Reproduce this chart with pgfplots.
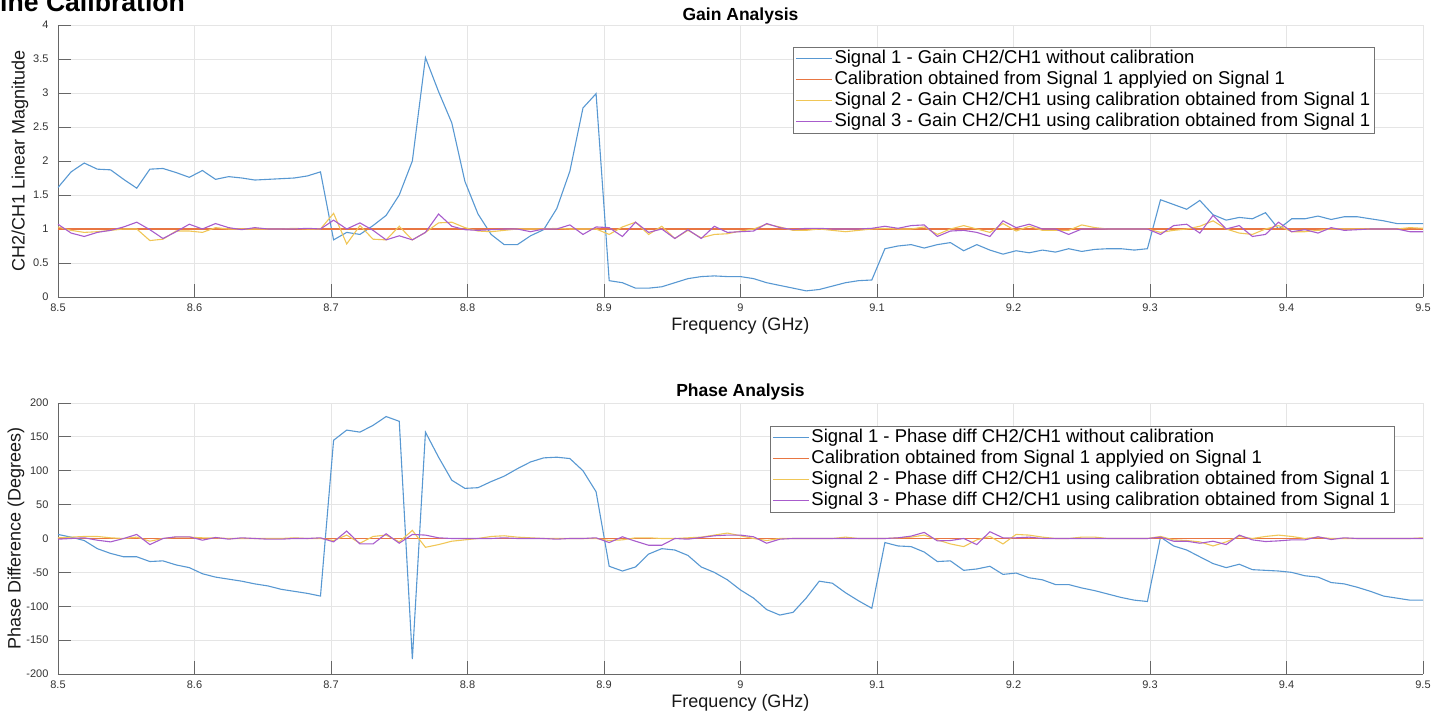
\documentclass[border=0pt]{standalone}
\usepackage{fontspec}
\setmainfont{Liberation Sans}
\usepackage{pgfplots}
\usepackage{pgfplotstable}
\pgfplotsset{compat=1.18}

\definecolor{cA}{RGB}{88,152,210}
\definecolor{cB}{RGB}{232,118,66}
\definecolor{cC}{RGB}{240,198,86}
\definecolor{cD}{RGB}{168,92,204}

% x s1 s2 s3  (gain, linear)
\pgfplotstableread{
x s1 s2 s3
8.5000 1.61 1.03 1.07
8.5096 1.84 0.98 0.94
8.5192 1.97 0.95 0.89
8.5288 1.88 0.96 0.95
8.5385 1.87 0.98 0.98
8.5481 1.73 1.00 1.03
8.5577 1.60 1.00 1.10
8.5673 1.88 0.83 0.99
8.5769 1.89 0.85 0.86
8.5865 1.83 0.97 0.96
8.5962 1.76 0.97 1.07
8.6058 1.86 0.95 1.00
8.6154 1.73 1.02 1.08
8.6250 1.77 1.00 1.02
8.6346 1.75 1.00 0.99
8.6442 1.72 1.00 1.02
8.6538 1.73 1.00 1.00
8.6635 1.74 1.00 1.00
8.6731 1.75 1.01 1.00
8.6827 1.78 1.00 1.01
8.6923 1.84 1.00 1.00
8.7019 0.84 1.23 1.13
8.7115 0.95 0.78 1.00
8.7212 0.92 1.05 1.09
8.7308 1.05 0.85 0.98
8.7404 1.20 0.84 0.84
8.7500 1.50 1.04 0.90
8.7596 2.00 0.84 0.84
8.7692 3.52 0.95 0.95
8.7788 3.02 1.09 1.22
8.7885 2.56 1.10 1.04
8.7981 1.70 1.02 0.99
8.8077 1.22 0.97 0.98
8.8173 0.92 0.96 0.99
8.8269 0.77 0.98 1.00
8.8365 0.77 1.00 1.00
8.8462 0.90 1.00 0.96
8.8558 0.99 1.00 1.00
8.8654 1.30 1.01 1.00
8.8750 1.85 1.00 1.06
8.8846 2.78 1.00 0.92
8.8942 2.99 1.00 1.03
8.9038 0.24 0.92 1.02
8.9135 0.21 1.03 0.89
8.9231 0.13 1.10 1.10
8.9327 0.13 0.92 0.95
8.9423 0.15 1.04 1.00
8.9519 0.21 0.86 0.86
8.9615 0.27 0.98 0.99
8.9712 0.30 0.87 0.86
8.9808 0.31 0.92 1.04
8.9904 0.30 0.93 0.95
9.0000 0.30 0.97 0.96
9.0096 0.27 1.00 0.97
9.0192 0.21 1.07 1.08
9.0288 0.17 1.03 1.02
9.0385 0.13 0.98 0.99
9.0481 0.09 0.98 1.01
9.0577 0.11 1.00 1.01
9.0673 0.16 0.98 1.00
9.0769 0.21 0.96 1.00
9.0865 0.24 0.98 1.00
9.0962 0.25 1.00 1.01
9.1058 0.71 1.01 1.04
9.1154 0.75 1.00 1.01
9.1250 0.77 1.00 1.05
9.1346 0.72 1.03 1.06
9.1442 0.77 0.92 0.89
9.1538 0.80 1.00 0.97
9.1635 0.68 1.05 0.98
9.1731 0.77 1.00 0.95
9.1827 0.69 0.95 0.89
9.1923 0.63 1.08 1.12
9.2019 0.68 0.97 1.02
9.2115 0.65 1.04 1.07
9.2212 0.69 0.98 1.00
9.2308 0.66 0.98 1.00
9.2404 0.71 0.98 0.92
9.2500 0.67 1.06 1.00
9.2596 0.70 1.02 1.00
9.2692 0.71 1.00 1.00
9.2788 0.71 1.00 1.00
9.2885 0.69 1.00 1.00
9.2981 0.71 1.00 1.00
9.3077 1.43 0.95 0.92
9.3173 1.36 0.98 1.05
9.3269 1.29 1.00 1.07
9.3365 1.42 1.04 0.94
9.3462 1.21 1.12 1.20
9.3558 1.13 1.00 1.00
9.3654 1.17 0.94 1.05
9.3750 1.15 0.92 0.89
9.3846 1.24 1.00 0.92
9.3942 1.00 1.05 1.10
9.4038 1.15 0.96 0.96
9.4135 1.15 0.96 0.99
9.4231 1.19 0.98 0.94
9.4327 1.14 1.00 1.02
9.4423 1.18 1.00 0.98
9.4519 1.18 1.00 0.99
9.4615 1.15 1.00 1.00
9.4712 1.12 1.00 1.00
9.4808 1.08 1.00 1.00
9.4904 1.08 1.02 0.96
9.5000 1.08 1.01 0.96
}\gaintable

% x s1 s2 s3  (phase, degrees)
\pgfplotstableread{
x s1 s2 s3
8.5000 6 1 -1
8.5096 2 2 0
8.5192 -3 3 1
8.5288 -15 3 -2.5
8.5385 -22 1 -5
8.5481 -27 0 0
8.5577 -27 2 6
8.5673 -34 -4 -9
8.5769 -33 0 0
8.5865 -39 2 2.5
8.5962 -43 2 2.5
8.6058 -52 1 -2.5
8.6154 -57 1 1.5
8.6250 -60 0 -1
8.6346 -63 0 1
8.6442 -67 0 0
8.6538 -70 0 -1
8.6635 -75 0 -1
8.6731 -78 1 0
8.6827 -81 0 0
8.6923 -85 0 1
8.7019 145 -3 -5
8.7115 160 5 11
8.7212 157 -7 -8
8.7308 167 3 -8
8.7404 180 5 7
8.7500 173 -5 -7
8.7596 -178 12 6
8.7692 157 -13 5
8.7788 120 -9 1
8.7885 86 -4 0
8.7981 74 -2 0
8.8077 75 0 0
8.8173 84 3 0
8.8269 92 4 1
8.8365 103 2 0
8.8462 113 1 0
8.8558 119 0 0
8.8654 120 0 -1
8.8750 118 0 0
8.8846 100 0 0
8.8942 69 0 1
8.9038 -41 -3 -6
8.9135 -48 -2 2.5
8.9231 -42 1 -4
8.9327 -23 1 -10
8.9423 -15 0 -10
8.9519 -17 0 0
8.9615 -25 1 -1
8.9712 -42 2 1.5
8.9808 -50 5 4
8.9904 -61 8 5
9.0000 -76 4 5
9.0096 -88 0 2.5
9.0192 -105 -3 -7
9.0288 -113 0 -1
9.0385 -109 0 0
9.0481 -88 0 0
9.0577 -63 0 0
9.0673 -66 0 0
9.0769 -80 2 0
9.0865 -92 0 0
9.0962 -103 0 0
9.1058 -6 0 0
9.1154 -11 1 1
9.1250 -12 2 3.5
9.1346 -20 5 9
9.1442 -34 -2 -3.5
9.1538 -33 -8 -3
9.1635 -47 -12 0
9.1731 -45 -2 -9
9.1827 -41 3 10
9.1923 -53 -8 1
9.2019 -51 6 1
9.2115 -58 5 2
9.2212 -61 2 0
9.2308 -68 0 0
9.2404 -68 0 0
9.2500 -73 2 0
9.2596 -77 2 0
9.2692 -82 0 0
9.2788 -87 0 0
9.2885 -91 0 0
9.2981 -93 0 0
9.3077 2 3 2
9.3173 -11 -2 -4
9.3269 -17 -3 -4
9.3365 -27 -5 -7
9.3462 -37 -11 -4
9.3558 -43 -5 -9
9.3654 -38 3 5
9.3750 -46 0 -2
9.3846 -47 3 -4.5
9.3942 -48 5 -3.5
9.4038 -50 3 -2
9.4135 -55 0 -2
9.4231 -57 2 2.5
9.4327 -65 0 -1.5
9.4423 -67 0 1
9.4519 -72 0 0
9.4615 -78 0 0
9.4712 -85 0 0
9.4808 -88 0 0
9.4904 -91 0 0
9.5000 -91 1 0
}\phasetable

\pgfplotsset{
  matlab/.style={
    scale only axis, width=1365pt,
    xmin=8.5, xmax=9.5,
    xtick={8.5,8.6,8.7,8.8,8.9,9,9.1,9.2,9.3,9.4,9.5},
    axis x line*=bottom, axis y line*=left,
    axis line style={draw=black!60, line width=0.9pt, -},
    grid=major, major grid style={draw=black!10, line width=0.8pt},
    tick style={draw=black!60, line width=0.9pt},
    major tick length=13pt, tick align=inside,
    ticklabel style={font=\fontsize{11}{13}\selectfont, text=black!80},
    /pgf/number format/assume math mode=true,
    xticklabel style={yshift=-3pt},
    yticklabel style={xshift=-6pt},
    label style={font=\fontsize{18}{21}\selectfont, text=black!90},
    legend cell align=left,
    legend image code/.code={\draw[##1] (0pt,0pt) -- (36pt,0pt);},
    legend style={draw=black!55, line width=0.8pt, fill=white,
      font=\fontsize{18.5}{21}\selectfont, inner xsep=2pt, inner ysep=1pt,
      row sep=0pt, column sep=0pt,
      nodes={inner sep=2pt, text height=13pt, text depth=4pt}},
    every axis plot/.append style={line width=1.1pt},
  }
}

\begin{document}
\begin{tikzpicture}[x=1pt,y=1pt]
\path[use as bounding box] (0,0) rectangle (1435,714);

\node[anchor=base west, inner sep=0pt, font=\bfseries\fontsize{26.6}{30}\selectfont] at (0,702) {ine Calibration};

\begin{axis}[matlab,
  at={(58pt,417pt)}, anchor=south west, height=272pt,
  ymin=0, ymax=4, ytick={0,0.5,1,1.5,2,2.5,3,3.5,4},
  title={Gain Analysis},
  title style={at={(axis description cs:0.5,1.011)}, anchor=center, font=\bfseries\fontsize{17.5}{20}\selectfont},
  xlabel={Frequency (GHz)}, xlabel style={at={(axis description cs:0.5,-0.1066)}, anchor=center},
  ylabel={CH2/CH1 Linear Magnitude}, ylabel style={at={(axis description cs:-0.0278,0.5)}, anchor=center},
  legend style={at={(0.5385,0.919)}, anchor=north west},
]
\addplot[cA] table[x=x, y=s1] {\gaintable};
\addlegendentry{Signal 1 - Gain CH2/CH1 without calibration}
\addplot[cB] coordinates {(8.5,1) (9.5,1)};
\addlegendentry{Calibration obtained from Signal 1 applyied on Signal 1}
\addplot[cC] table[x=x, y=s2] {\gaintable};
\addlegendentry{Signal 2 - Gain CH2/CH1 using calibration obtained from Signal 1}
\addplot[cD] table[x=x, y=s3] {\gaintable};
\addlegendentry{Signal 3 - Gain CH2/CH1 using calibration obtained from Signal 1}
\end{axis}

\begin{axis}[matlab,
  at={(58pt,40pt)}, anchor=south west, height=271pt,
  ymin=-200, ymax=200, ytick={-200,-150,-100,-50,0,50,100,150,200},
  title={Phase Analysis},
  title style={at={(axis description cs:0.5,1.019)}, anchor=center, font=\bfseries\fontsize{17.5}{20}\selectfont},
  xlabel={Frequency (GHz)}, xlabel style={at={(axis description cs:0.5,-0.107)}, anchor=center},
  ylabel={Phase Difference (Degrees)}, ylabel style={at={(axis description cs:-0.0308,0.5)}, anchor=center},
  legend style={at={(0.5216,0.915)}, anchor=north west},
]
\addplot[cA] table[x=x, y=s1] {\phasetable};
\addlegendentry{Signal 1 - Phase diff CH2/CH1 without calibration}
\addplot[cB] coordinates {(8.5,0) (9.5,0)};
\addlegendentry{Calibration obtained from Signal 1 applyied on Signal 1}
\addplot[cC] table[x=x, y=s2] {\phasetable};
\addlegendentry{Signal 2 - Phase diff CH2/CH1 using calibration obtained from Signal 1}
\addplot[cD] table[x=x, y=s3] {\phasetable};
\addlegendentry{Signal 3 - Phase diff CH2/CH1 using calibration obtained from Signal 1}
\end{axis}
\end{tikzpicture}
\end{document}
